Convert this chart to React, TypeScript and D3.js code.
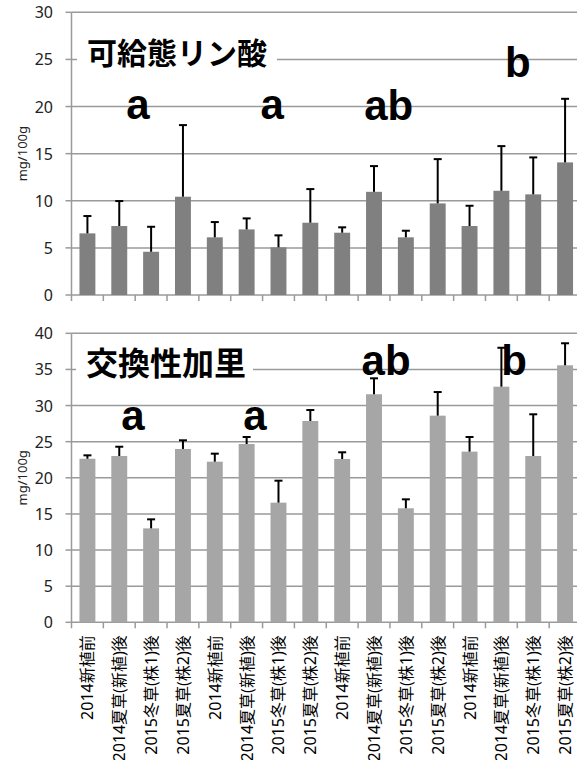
import React from "react";
import * as d3 from "d3";

// Sampling stages, repeated for each of the four plots
const categories = [
  "2014新植前", "2014夏草(新植)後", "2015冬草(株1)後", "2015夏草(株2)後",
  "2014新植前", "2014夏草(新植)後", "2015冬草(株1)後", "2015夏草(株2)後",
  "2014新植前", "2014夏草(新植)後", "2015冬草(株1)後", "2015夏草(株2)後",
  "2014新植前", "2014夏草(新植)後", "2015冬草(株1)後", "2015夏草(株2)後",
];

// Available phosphate (mg/100g): means and standard deviations
const phosphateMean = [6.54, 7.32, 4.59, 10.43, 6.12, 6.96, 5.06, 7.67, 6.61, 10.95, 6.12, 9.72, 7.32, 11.06, 10.68, 14.07];
const phosphateSd = [1.84, 2.65, 2.65, 7.6, 1.62, 1.17, 1.27, 3.57, 0.57, 2.73, 0.7, 4.7, 2.15, 4.74, 3.92, 6.75];

// Exchangeable potassium (mg/100g): means and standard deviations
const potassiumMean = [22.64, 23.02, 13.0, 23.99, 22.23, 24.68, 16.56, 27.86, 22.6, 31.56, 15.78, 28.6, 23.62, 32.61, 23.02, 35.57];
const potassiumSd = [0.47, 1.28, 1.25, 1.2, 1.11, 0.97, 3.04, 1.52, 0.93, 2.21, 1.24, 3.27, 2.03, 5.39, 5.77, 3.05];

// Axis ticks
const phosphateTicks = [0, 5, 10, 15, 20, 25, 30];
const potassiumTicks = [0, 5, 10, 15, 20, 25, 30, 35, 40];

// Significance letters: text, position along the category axis, height in data units
const phosphateLetters = ["a", "a", "ab", "b"];
const phosphateLetterPos = [2.09, 6.3, 9.96, 14.02];
const phosphateLetterLevel = [18.66, 18.66, 18.6, 23.1];
const potassiumLetters = ["a", "a", "ab", "b"];
const potassiumLetterPos = [1.93, 5.76, 9.88, 13.9];
const potassiumLetterLevel = [26.6, 26.6, 34.2, 34.2];

const W = 577;
const H = 760;
const X0 = 71.5;
const X1 = 581;
const GRID = "#9a9a9a";

const keys = categories.map((c, i) => `${i}:${c}`);
const x = d3.scaleBand<string>().domain(keys).range([X0, X1]).paddingInner(0.5).paddingOuter(0.25);
const idx = d3.scaleLinear().domain([0, categories.length]).range([X0, X1]);

type PanelProps = {
  title: string;
  titleSize: number;
  titleBox: [number, number];
  mean: number[];
  sd: number[];
  ticks: number[];
  yRange: [number, number];
  color: string;
  letters: string[];
  letterPos: number[];
  letterLevel: number[];
  labelX: boolean;
};

function Panel(p: PanelProps) {
  const max = p.ticks[p.ticks.length - 1];
  const y = d3.scaleLinear().domain([0, max]).range(p.yRange);
  const y0 = y(0);
  const midY = (p.yRange[0] + p.yRange[1]) / 2;
  const titleY = y(p.ticks[p.ticks.length - 2]) - 8;
  const bw = x.bandwidth();
  const [bx0, bx1] = p.titleBox;
  return (
    <g>
      {/* horizontal gridlines */}
      {p.ticks.map((t) => (
        <line key={"g" + t} x1={X0} x2={X1} y1={y(t)} y2={y(t)} stroke={GRID} strokeWidth={1.5} />
      ))}
      {/* y axis */}
      <line x1={X0} x2={X0} y1={y(max)} y2={y0} stroke={GRID} strokeWidth={1.5} />
      {p.ticks.map((t) => (
        <g key={"t" + t}>
          <line x1={X0 - 6} x2={X0} y1={y(t)} y2={y(t)} stroke={GRID} strokeWidth={1.5} />
          <text x={53} y={y(t)} textAnchor="end" dominantBaseline="central" fontFamily="'Noto Sans', sans-serif" fontSize={16} fill="#222">
            {t}
          </text>
        </g>
      ))}
      {/* x axis ticks at category boundaries */}
      {d3.range(categories.length + 1).map((i) => (
        <line key={"x" + i} x1={idx(i)} x2={idx(i)} y1={y0} y2={y0 + 6} stroke={GRID} strokeWidth={1.5} />
      ))}
      <text
        transform={`translate(22,${midY}) rotate(-90)`}
        textAnchor="middle"
        dominantBaseline="central"
        fontFamily="'Noto Sans', sans-serif"
        fontSize={13}
        fill="#222"
      >
        mg/100g
      </text>
      {/* title on a white plate */}
      <rect x={bx0} y={titleY - 17} width={bx1 - bx0} height={34} fill="#fff" />
      <text
        x={bx0 + 10}
        y={titleY}
        dominantBaseline="central"
        fontFamily="'Noto Sans CJK JP', sans-serif"
        fontWeight={700}
        fontSize={p.titleSize}
        fill="#000"
      >
        {p.title}
      </text>
      {/* bars */}
      {p.mean.map((m, i) => (
        <rect key={"b" + i} x={x(keys[i])} y={y(m)} width={bw} height={y0 - y(m)} fill={p.color} />
      ))}
      {/* significance letters */}
      {p.letters.map((l, i) => (
        <text
          key={"l" + i}
          x={idx(p.letterPos[i])}
          y={y(p.letterLevel[i])}
          textAnchor="middle"
          fontFamily="'Liberation Sans', Arial, sans-serif"
          fontWeight={700}
          fontSize={42}
          fill="#000"
        >
          {l}
        </text>
      ))}
      {/* error bars (upper) */}
      {p.mean.map((m, i) => {
        const cx = (x(keys[i]) as number) + bw / 2;
        const top = y(m + p.sd[i]);
        return (
          <g key={"e" + i} stroke="#000" strokeWidth={2}>
            <line x1={cx} x2={cx} y1={y(m)} y2={top} />
            <line x1={cx - 4} x2={cx + 4} y1={top} y2={top} />
          </g>
        );
      })}
      {/* category labels */}
      {p.labelX &&
        categories.map((c, i) => (
          <text
            key={"c" + i}
            transform={`translate(${(x(keys[i]) as number) + bw / 2},${y0 + 13}) rotate(-90)`}
            textAnchor="end"
            dominantBaseline="central"
            fontFamily="'Noto Sans', 'Noto Sans CJK JP', sans-serif"
            fontSize={16}
            fill="#000"
          >
            {c}
          </text>
        ))}
    </g>
  );
}

export default function App() {
  return (
    <svg width={W} height={H} style={{ position: "absolute", left: 0, top: 0, background: "#fff" }}>
      <rect x={0} y={0} width={W} height={H} fill="#fff" />
      <Panel
        title="可給態リン酸"
        titleSize={30}
        titleBox={[77, 277]}
        mean={phosphateMean}
        sd={phosphateSd}
        ticks={phosphateTicks}
        yRange={[295, 12.3]}
        color="#808080"
        letters={phosphateLetters}
        letterPos={phosphateLetterPos}
        letterLevel={phosphateLetterLevel}
        labelX={false}
      />
      <Panel
        title="交換性加里"
        titleSize={32}
        titleBox={[76, 253]}
        mean={potassiumMean}
        sd={potassiumSd}
        ticks={potassiumTicks}
        yRange={[622.3, 333.3]}
        color="#a6a6a6"
        letters={potassiumLetters}
        letterPos={potassiumLetterPos}
        letterLevel={potassiumLetterLevel}
        labelX={true}
      />
    </svg>
  );
}
